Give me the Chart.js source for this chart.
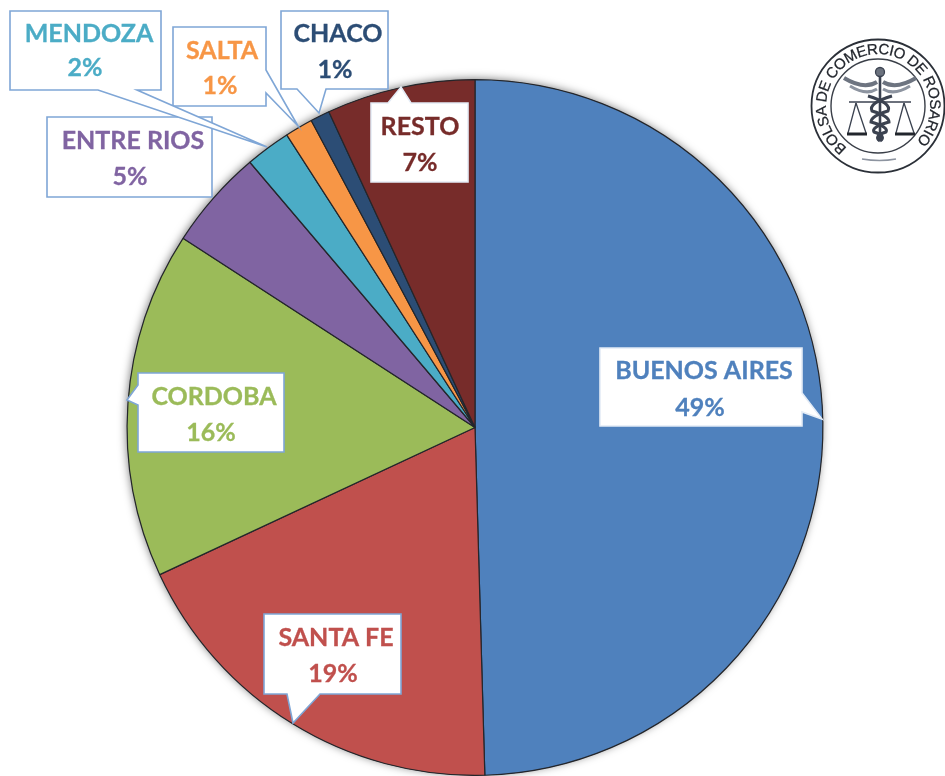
<!DOCTYPE html>
<html><head><meta charset="utf-8">
<style>
html,body{margin:0;padding:0;background:#fff;overflow:hidden}
#wrap{position:relative;width:945px;height:776px;filter:blur(0.7px)}
canvas{position:absolute;left:0;top:0}
svg{position:absolute;left:800px;top:30px}
</style>
<script src="https://cdn.jsdelivr.net/npm/chart.js@4/dist/chart.umd.min.js"></script>
</head><body>
<div id="wrap">
<canvas id="c" width="945" height="776"></canvas>
<svg width="145" height="150" viewBox="800 30 145 150">
  <defs><path id="ring" d="M 847 147.7 A 52 52 0 1 1 917 140.7"/></defs>
  <circle cx="878" cy="106" r="66.5" fill="#fff" stroke="#2b3038" stroke-width="1.8"/>
  <circle cx="878" cy="106" r="47" fill="none" stroke="#3a3f48" stroke-width="1.4"/>
  <text font-family="Liberation Sans" font-size="15" fill="#22262d" stroke="#22262d" stroke-width="0.25" textLength="250" lengthAdjust="spacing"><textPath href="#ring" startOffset="0">BOLSA DE COMERCIO DE ROSARIO</textPath></text>
  <g stroke="#3b4250" fill="none" stroke-width="1.3">
    <path d="M880 70 V140" stroke-width="2.6"/>
    <circle cx="880" cy="72" r="4.5" fill="#6b727e"/>
    <path d="M844 78 Q864 90 877 82 M916 78 Q896 90 883 82" stroke-width="4" stroke="#6d7480"/>
    <path d="M850 86 Q866 96 877 89 M910 86 Q894 96 883 89" stroke-width="3" stroke="#8d94a0"/>
    <path d="M849 102 H911" stroke-width="1.6"/>
    <path d="M856 103 L848 133 M856 103 L866 133 M904 103 L896 133 M904 103 L914 133"/>
    <path d="M847 134 H867 M895 134 H915" stroke-width="3.2" stroke="#22262d"/>
    <path d="M868 96 Q892 103 888 111 Q871 116 871 122 Q889 127 886 132 Q873 136 880 141" stroke-width="3"/>
    <path d="M892 96 Q868 103 872 111 Q889 116 889 122 Q871 127 874 132 Q887 136 880 141" stroke-width="3"/>
    <path d="M862 159 Q880 162 896 159" stroke="#8d94a0"/>
  </g>
</svg>
</div>
<script>
const provinces = ["BUENOS AIRES","SANTA FE","CORDOBA","ENTRE RIOS","MENDOZA","SALTA","CHACO","RESTO"];
const shares = [49.55,18.5,16.1,4.65,2.1,1.3,0.9,6.9];
const shareLabels = ["49%","19%","16%","5%","2%","1%","1%","7%"];
const sliceColors = ["#4F81BD","#C0504D","#9BBB59","#8064A2","#4BACC6","#F79646","#2C4D75","#772C2A"];

// callout geometry, drawn back to front: box, pointer and text anchors in page pixels
const callouts = [
 {i:3,box:[47,117,212,197],ptr:[[205,197],[190,197],[200,200]],nameAt:[133,140],pctAt:[130,176],line:true},
 {i:5,box:[173,27,266,106],ptr:[[266,70],[298,126],[266,93]],nameAt:[222,50],pctAt:[220,85],line:true},
 {i:4,box:[10,11,161,90],ptr:[[137,90],[267,147],[98,90]],nameAt:[89,33],pctAt:[85,67],line:true},
 {i:6,box:[281,11,388,89],ptr:[[326,89],[319,113],[297,89]],nameAt:[338,33],pctAt:[335,69],line:true},
 {i:7,box:[371,103,468,182],ptr:[[388,103],[401,87],[411,103]],nameAt:[420,126],pctAt:[420,162],line:false},
 {i:0,box:[600,348,802,426],ptr:[[802,393],[822,419],[802,412]],nameAt:[704,370],pctAt:[700,407],line:false},
 {i:2,box:[138,373,284,452],ptr:[[138,385],[127,400],[138,405]],nameAt:[214,396],pctAt:[211,432],line:true},
 {i:1,box:[264,614,401,694],ptr:[[320,694],[293,723],[287,694]],nameAt:[336,637],pctAt:[333,673],line:true}
];

function calloutPath(ctx,c){
  const [x0,y0,x1,y1]=c.box, [a,t,b]=c.ptr;
  ctx.beginPath();
  const pts=[[x0,y0],[x1,y0],[x1,y1],[x0,y1]];
  const onEdge=(p,q,r)=>Math.abs((q[0]-p[0])*(r[1]-p[1])-(q[1]-p[1])*(r[0]-p[0]))<0.5;
  ctx.moveTo(x0,y0);
  for(let k=0;k<4;k++){
    const p=pts[k],q=pts[(k+1)%4];
    if(onEdge(p,q,a)&&onEdge(p,q,b)){
      const da=Math.hypot(a[0]-p[0],a[1]-p[1]),db=Math.hypot(b[0]-p[0],b[1]-p[1]);
      const [f,s]=da<db?[a,b]:[b,a];
      ctx.lineTo(f[0],f[1]);ctx.lineTo(t[0],t[1]);ctx.lineTo(s[0],s[1]);
    }
    ctx.lineTo(q[0],q[1]);
  }
  ctx.closePath();
}

const pieShadow={
  id:'pieShadow',
  beforeDatasetsDraw(chart){
    const arc=chart.getDatasetMeta(0).data[0]; if(!arc) return;
    const ctx=chart.ctx; ctx.save();
    ctx.shadowColor='rgba(0,0,0,0.5)';ctx.shadowBlur=8;ctx.shadowOffsetX=-1;ctx.shadowOffsetY=-1;
    ctx.fillStyle='#333';ctx.beginPath();ctx.arc(arc.x,arc.y,arc.outerRadius,0,Math.PI*2);ctx.fill();
    ctx.restore();
  }
};
const calloutPlugin={
  id:'calloutPlugin',
  afterDatasetsDraw(chart){
    const ctx=chart.ctx; ctx.save();
    for(const c of callouts){
      calloutPath(ctx,c);
      ctx.fillStyle='#fff';ctx.fill();
      ctx.strokeStyle=c.line?'#7fa6d6':'#e4ecf6';ctx.lineWidth=1.6;ctx.lineJoin='miter';ctx.stroke();
      ctx.fillStyle=sliceColors[c.i];
      ctx.strokeStyle=sliceColors[c.i];ctx.lineWidth=0.3;
      ctx.font='bold 25px Lato';ctx.textAlign='center';ctx.textBaseline='middle';
      for(const [txt,at] of [[provinces[c.i],c.nameAt],[shareLabels[c.i],c.pctAt]]){
        ctx.fillText(txt,at[0],at[1]+1);
        ctx.strokeText(txt,at[0],at[1]+1);
      }
    }
    ctx.restore();
  }
};

new Chart(document.getElementById('c'),{
  type:'pie',
  data:{labels:provinces,datasets:[{data:shares,backgroundColor:sliceColors,borderColor:'#24262b',borderWidth:1.2}]},
  options:{
    responsive:false,animation:false,
    layout:{padding:{left:126,right:121,top:79,bottom:0}},
    plugins:{legend:{display:false},tooltip:{enabled:false}}
  },
  plugins:[pieShadow,calloutPlugin]
});
</script>
</body></html>
